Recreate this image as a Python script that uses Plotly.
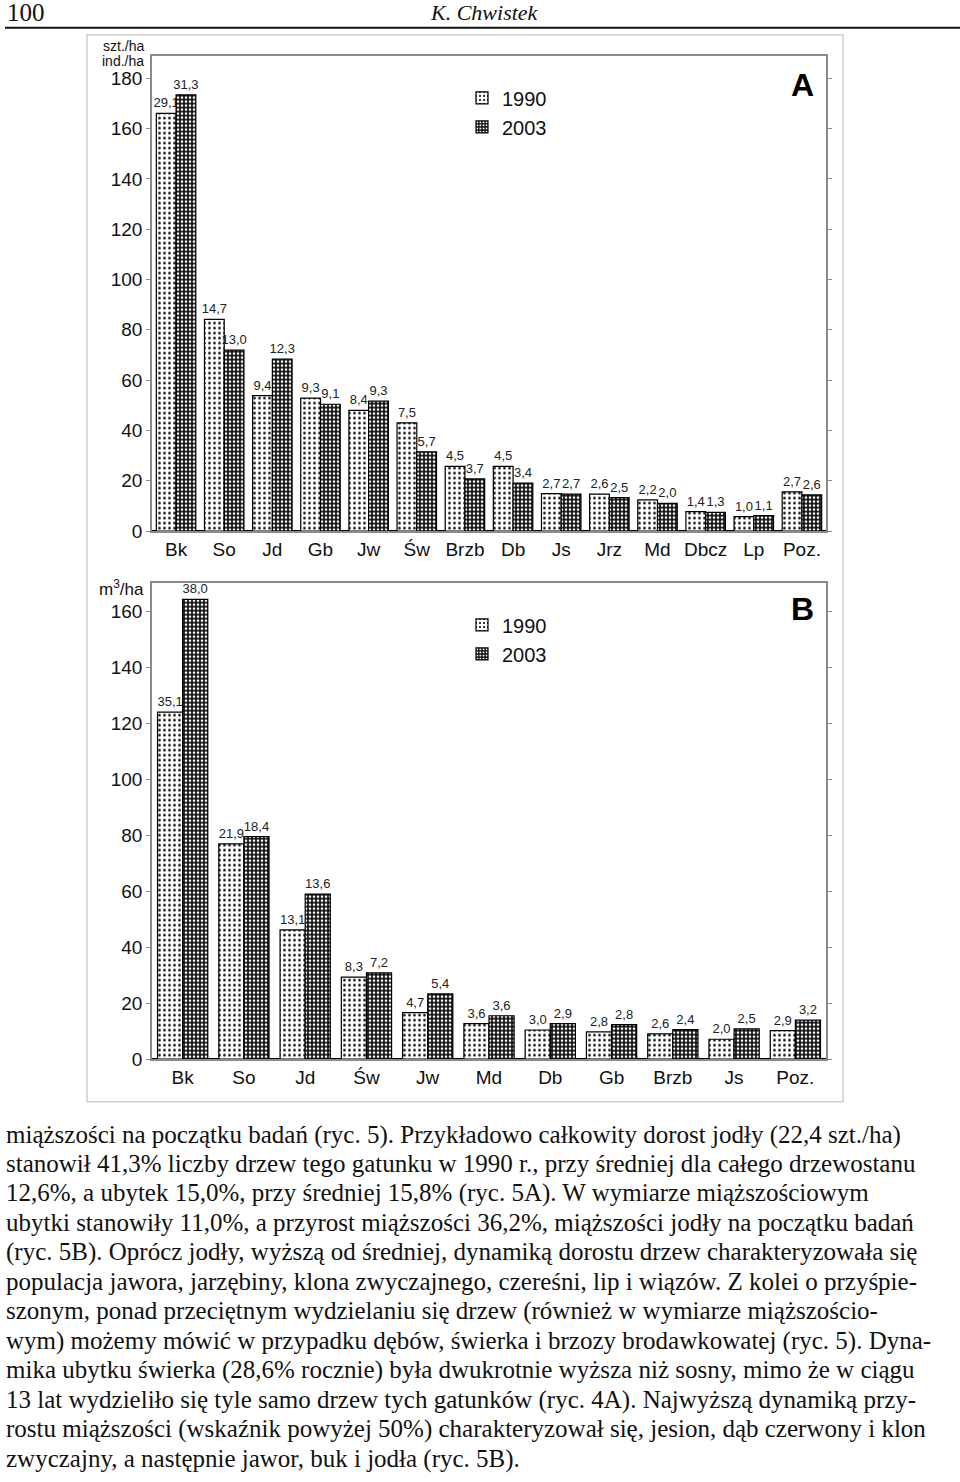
import plotly.graph_objects as go

W, H = 960, 1482

# ---------- data: panel A (number of trees, szt./ha) ----------
cats_a = ["Bk", "So", "Jd", "Gb", "Jw", "Św", "Brzb", "Db", "Js", "Jrz", "Md", "Dbcz", "Lp", "Poz."]
vals_a_1990 = [166, 84.1, 53.8, 52.8, 48, 43, 25.7, 25.7, 14.9, 14.7, 12.4, 7.7, 5.7, 15.6]
vals_a_2003 = [173.4, 71.9, 68.3, 50.4, 51.6, 31.5, 20.7, 19.1, 14.7, 13.3, 11.0, 7.4, 6.1, 14.4]
lab_a_1990 = ["29,1", "14,7", "9,4", "9,3", "8,4", "7,5", "4,5", "4,5", "2,7", "2,6", "2,2", "1,4", "1,0", "2,7"]
lab_a_2003 = ["31,3", "13,0", "12,3", "9,1", "9,3", "5,7", "3,7", "3,4", "2,7", "2,5", "2,0", "1,3", "1,1", "2,6"]

# ---------- data: panel B (volume, m3/ha) ----------
cats_b = ["Bk", "So", "Jd", "Św", "Jw", "Md", "Db", "Gb", "Brzb", "Js", "Poz."]
vals_b_1990 = [124.1, 77.0, 46.2, 29.3, 16.6, 12.7, 10.4, 9.7, 9.0, 7.1, 10.2]
vals_b_2003 = [164.4, 79.6, 59.0, 30.8, 23.3, 15.5, 12.7, 12.3, 10.5, 10.8, 13.9]
lab_b_1990 = ["35,1", "21,9", "13,1", "8,3", "4,7", "3,6", "3,0", "2,8", "2,6", "2,0", "2,9"]
lab_b_2003 = ["38,0", "18,4", "13,6", "7,2", "5,4", "3,6", "2,9", "2,8", "2,4", "2,5", "3,2"]

years = ["1990", "2003"]
ticks_a = list(range(0, 181, 20))
ticks_b = list(range(0, 161, 20))

body_lines = [
    "miąższości na początku badań (ryc. 5). Przykładowo całkowity dorost jodły (22,4 szt./ha)",
    "stanowił 41,3% liczby drzew tego gatunku w 1990 r., przy średniej dla całego drzewostanu",
    "12,6%, a ubytek 15,0%, przy średniej 15,8% (ryc. 5A). W wymiarze miąższościowym",
    "ubytki stanowiły 11,0%, a przyrost miąższości 36,2%, miąższości jodły na początku badań",
    "(ryc. 5B). Oprócz jodły, wyższą od średniej, dynamiką dorostu drzew charakteryzowała się",
    "populacja jawora, jarzębiny, klona zwyczajnego, czereśni, lip i wiązów. Z kolei o przyśpie-",
    "szonym, ponad przeciętnym wydzielaniu się drzew (również w wymiarze miąższościo-",
    "wym) możemy mówić w przypadku dębów, świerka i brzozy brodawkowatej (ryc. 5). Dyna-",
    "mika ubytku świerka (28,6% rocznie) była dwukrotnie wyższa niż sosny, mimo że w ciągu",
    "13 lat wydzieliło się tyle samo drzew tych gatunków (ryc. 4A). Najwyższą dynamiką przy-",
    "rostu miąższości (wskaźnik powyżej 50%) charakteryzował się, jesion, dąb czerwony i klon",
    "zwyczajny, a następnie jawor, buk i jodła (ryc. 5B).",
]


def px_x(x):
    return x / W


def px_y(y):
    return 1 - y / H


pat_1990 = dict(shape=".", size=5, solidity=0.22, fgcolor="#000000", bgcolor="#ffffff", fillmode="replace")
pat_2003 = dict(shape=".", size=4, solidity=0.35, fgcolor="#ffffff", bgcolor="#111111", fillmode="replace")
SANS = "Liberation Sans, Arial, sans-serif"
SERIF = "Liberation Serif, Times New Roman, serif"

fig = go.Figure()

for name, vals, labs, pat, xa, ya, cats, lg in [
    (years[0], vals_a_1990, lab_a_1990, pat_1990, "x", "y", cats_a, "legend"),
    (years[1], vals_a_2003, lab_a_2003, pat_2003, "x", "y", cats_a, "legend"),
    (years[0], vals_b_1990, lab_b_1990, pat_1990, "x2", "y2", cats_b, "legend2"),
    (years[1], vals_b_2003, lab_b_2003, pat_2003, "x2", "y2", cats_b, "legend2"),
]:
    fig.add_trace(go.Bar(
        x=cats, y=vals, name=name, xaxis=xa, yaxis=ya, legend=lg, showlegend=True,
        text=labs, textposition="outside", constraintext="none", cliponaxis=False,
        textfont=dict(family=SANS, size=13, color="#222"),
        marker=dict(color="#ffffff" if name == "1990" else "#111111",
                    pattern=pat, line=dict(color="#000000", width=1.2)),
    ))

axis_common = dict(showline=True, linecolor="#8a8a8a", linewidth=1.5, showgrid=False)

fig.update_layout(
    width=W, height=H,
    margin=dict(l=0, r=0, t=0, b=0),
    paper_bgcolor="white", plot_bgcolor="white",
    barmode="group", bargap=0.18, bargroupgap=0.0,
    font=dict(family=SANS, color="#111"),
    xaxis=dict(domain=[px_x(152), px_x(826)], anchor="y", range=[-0.5, 13.5], mirror=True, ticks="",
               tickfont=dict(size=19, family=SANS), **axis_common),
    yaxis=dict(domain=[px_y(535), px_y(56)], anchor="x", range=[0, 189], tickvals=ticks_a,
               ticks="outside", ticklen=4, tickcolor="#8a8a8a", mirror="ticks",
               zeroline=True, zerolinecolor="#000", zerolinewidth=1.5,
               tickfont=dict(size=19, family=SANS), **axis_common),
    xaxis2=dict(domain=[px_x(152), px_x(826)], anchor="y2", range=[-0.5, 10.5], mirror=True, ticks="",
                tickfont=dict(size=19, family=SANS), **axis_common),
    yaxis2=dict(domain=[px_y(1067), px_y(587)], anchor="x2", range=[0, 170.4], tickvals=ticks_b,
                ticks="outside", ticklen=4, tickcolor="#8a8a8a", mirror="ticks",
                zeroline=True, zerolinecolor="#000", zerolinewidth=1.5,
                tickfont=dict(size=19, family=SANS), **axis_common),
    legend=dict(x=px_x(462), y=px_y(79), xanchor="left", yanchor="top", font=dict(size=20, family=SANS),
                itemwidth=30, bgcolor="rgba(0,0,0,0)", tracegroupgap=0),
    legend2=dict(x=px_x(462), y=px_y(610), xanchor="left", yanchor="top", font=dict(size=20, family=SANS),
                 itemwidth=30, bgcolor="rgba(0,0,0,0)", tracegroupgap=0),
)

shapes = [
    dict(type="line", xref="paper", yref="paper", x0=px_x(5), x1=1, y0=px_y(28), y1=px_y(28),
         line=dict(color="#111", width=2)),
    dict(type="rect", xref="paper", yref="paper", x0=px_x(87), x1=px_x(843), y0=px_y(1110), y1=px_y(35),
         line=dict(color="#cfcfcf", width=1.5), layer="below"),
]
fig.update_layout(shapes=shapes)

ann = [
    dict(text="100", x=px_x(5), y=px_y(13), xanchor="left", yanchor="middle",
         font=dict(family=SERIF, size=25, color="#111")),
    dict(text="<i>K. Chwistek</i>", x=px_x(428), y=px_y(13), xanchor="left", yanchor="middle",
         font=dict(family=SERIF, size=22, color="#111")),
    dict(text="szt./ha", x=px_x(146), y=px_y(46), xanchor="right", yanchor="middle",
         font=dict(family=SANS, size=14, color="#111")),
    dict(text="ind./ha", x=px_x(146), y=px_y(61), xanchor="right", yanchor="middle",
         font=dict(family=SANS, size=14, color="#111")),
    dict(text="m<sup>3</sup>/ha", x=px_x(146), y=px_y(592), xanchor="right", yanchor="middle",
         font=dict(family=SANS, size=17, color="#111")),
    dict(text="<b>A</b>", x=px_x(802), y=px_y(86), xanchor="center", yanchor="middle",
         font=dict(family=SANS, size=32, color="#000")),
    dict(text="<b>B</b>", x=px_x(802), y=px_y(614), xanchor="center", yanchor="middle",
         font=dict(family=SANS, size=32, color="#000")),
]
line_y0, line_dy = 1143, 29.7
for i, t in enumerate(body_lines):
    ann.append(dict(text=t, x=px_x(4), y=px_y(line_y0 + i * line_dy), xanchor="left", yanchor="middle",
                    font=dict(family=SERIF, size=25, color="#111")))
for a in ann:
    a.update(xref="paper", yref="paper", showarrow=False)
fig.update_layout(annotations=ann)

fig.write_html("out.html")
